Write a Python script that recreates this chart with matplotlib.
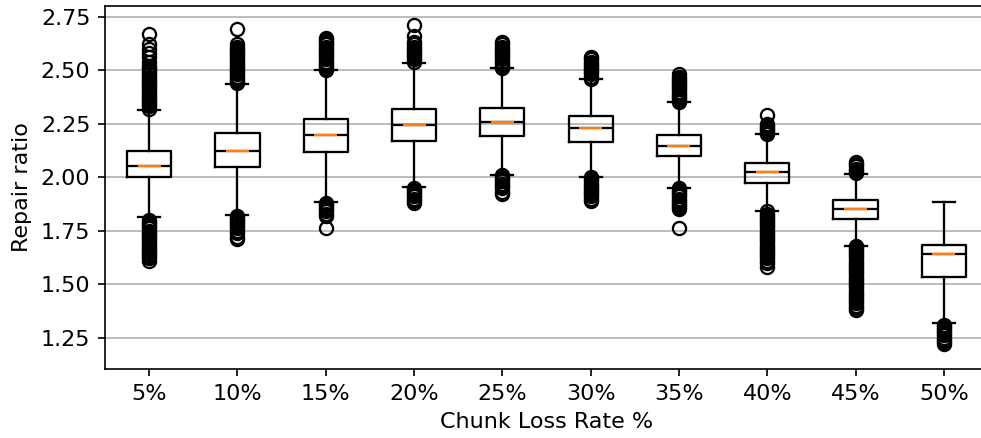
import matplotlib
matplotlib.use("Agg")
import matplotlib.pyplot as plt

categories = ["5%", "10%", "15%", "20%", "25%", "30%", "35%", "40%", "45%", "50%"]
q1 = [2.000, 2.049, 2.116, 2.168, 2.193, 2.166, 2.099, 1.974, 1.805, 1.535]
medians = [2.054, 2.124, 2.196, 2.243, 2.259, 2.228, 2.147, 2.023, 1.853, 1.641]
q3 = [2.124, 2.205, 2.273, 2.317, 2.322, 2.286, 2.199, 2.066, 1.893, 1.682]
whisker_low = [1.813, 1.822, 1.886, 1.956, 2.012, 2.000, 1.948, 1.841, 1.678, 1.317]
whisker_high = [2.314, 2.436, 2.500, 2.535, 2.512, 2.460, 2.353, 2.203, 2.016, 1.886]

fliers_5 = [2.32, 2.33, 2.34, 2.35, 2.36, 2.37, 2.38, 2.39, 2.40, 2.41, 2.42, 2.43,
            2.44, 2.45, 2.46, 2.47, 2.48, 2.49, 2.50, 2.51, 2.52, 2.54, 2.56, 2.58,
            2.60, 2.62, 2.67,
            1.80, 1.79, 1.78, 1.77, 1.76, 1.75, 1.74, 1.73, 1.72, 1.71, 1.70, 1.69,
            1.68, 1.67, 1.66, 1.65, 1.64, 1.63, 1.62, 1.61]
fliers_10 = [2.44, 2.45, 2.46, 2.47, 2.48, 2.49, 2.50, 2.51, 2.52, 2.53, 2.54, 2.55,
             2.56, 2.57, 2.58, 2.59, 2.60, 2.61, 2.62, 2.69,
             1.82, 1.81, 1.80, 1.79, 1.78, 1.77, 1.76, 1.75, 1.74, 1.72, 1.71]
fliers_15 = [2.50, 2.51, 2.52, 2.53, 2.54, 2.55, 2.56, 2.57, 2.58, 2.59, 2.60, 2.61,
             2.62, 2.63, 2.64, 2.65,
             1.88, 1.87, 1.86, 1.85, 1.84, 1.83, 1.82, 1.76]
fliers_20 = [2.54, 2.55, 2.56, 2.57, 2.58, 2.59, 2.60, 2.61, 2.62, 2.63, 2.66, 2.71,
             1.95, 1.94, 1.93, 1.92, 1.91, 1.90, 1.89, 1.88]
fliers_25 = [2.51, 2.52, 2.53, 2.54, 2.55, 2.56, 2.57, 2.58, 2.59, 2.60, 2.61, 2.62,
             2.63,
             2.01, 2.00, 1.99, 1.98, 1.97, 1.96, 1.95, 1.93, 1.92]
fliers_30 = [2.46, 2.47, 2.48, 2.49, 2.50, 2.51, 2.52, 2.53, 2.54, 2.55, 2.56,
             2.00, 1.99, 1.98, 1.97, 1.96, 1.95, 1.94, 1.93, 1.92, 1.91, 1.90, 1.89]
fliers_35 = [2.35, 2.36, 2.37, 2.38, 2.39, 2.40, 2.41, 2.42, 2.43, 2.44, 2.45, 2.46,
             2.47, 2.48,
             1.95, 1.94, 1.93, 1.92, 1.91, 1.90, 1.89, 1.88, 1.87, 1.86, 1.85, 1.76]
fliers_40 = [2.20, 2.21, 2.22, 2.23, 2.24, 2.25, 2.29,
             1.84, 1.83, 1.82, 1.81, 1.80, 1.79, 1.78, 1.77, 1.76, 1.75, 1.74, 1.73,
             1.72, 1.71, 1.70, 1.69, 1.68, 1.67, 1.66, 1.65, 1.64, 1.63, 1.62, 1.61,
             1.60, 1.58]
fliers_45 = [2.02, 2.03, 2.04, 2.05, 2.06, 2.07,
             1.68, 1.67, 1.66, 1.65, 1.64, 1.63, 1.62, 1.61, 1.60, 1.59, 1.58, 1.57,
             1.56, 1.55, 1.54, 1.53, 1.52, 1.51, 1.50, 1.49, 1.48, 1.47, 1.46, 1.45,
             1.44, 1.43, 1.42, 1.41, 1.40, 1.39, 1.38]
fliers_50 = [1.31, 1.30, 1.29, 1.28, 1.27, 1.26, 1.25, 1.24, 1.23, 1.22]
fliers = [fliers_5, fliers_10, fliers_15, fliers_20, fliers_25, fliers_30,
          fliers_35, fliers_40, fliers_45, fliers_50]

stats = []
for i, lab in enumerate(categories):
    stats.append(dict(label=lab, q1=q1[i], med=medians[i], q3=q3[i],
                      whislo=whisker_low[i], whishi=whisker_high[i],
                      fliers=fliers[i]))

plt.rcParams["font.size"] = 10.7

fig = plt.figure(figsize=(981 / 150, 438 / 150), dpi=150)
ax = fig.add_axes([105 / 981, 1 - 369.3 / 438, 883 / 981, (369.3 - 5.7) / 438])

positions = list(range(1, len(categories) + 1))
lw = 1.1
ax.bxp(stats, positions=positions, widths=0.5,
       boxprops=dict(linewidth=lw),
       whiskerprops=dict(linewidth=lw),
       capprops=dict(linewidth=lw),
       medianprops=dict(color="black", linewidth=lw),
       flierprops=dict(marker="o", markerfacecolor="none", markeredgecolor="black",
                       markersize=6.3, markeredgewidth=1.1, linewidth=0))
ax.hlines(medians, [p - 0.13 for p in positions], [p + 0.13 for p in positions],
          colors="#ff7f0e", linewidth=lw, zorder=5)

ax.set_xlim(0.5, 10.5)
ax.set_ylim(1.102, 2.801)
ax.set_yticks([1.25, 1.50, 1.75, 2.00, 2.25, 2.50, 2.75])
ax.set_yticklabels(["1.25", "1.50", "1.75", "2.00", "2.25", "2.50", "2.75"])
ax.yaxis.grid(True, color="#b0b0b0", linewidth=0.8)
ax.set_axisbelow(True)
ax.set_xlabel("Chunk Loss Rate %")
ax.set_ylabel("Repair ratio")

fig.savefig("out.png", dpi=150)
